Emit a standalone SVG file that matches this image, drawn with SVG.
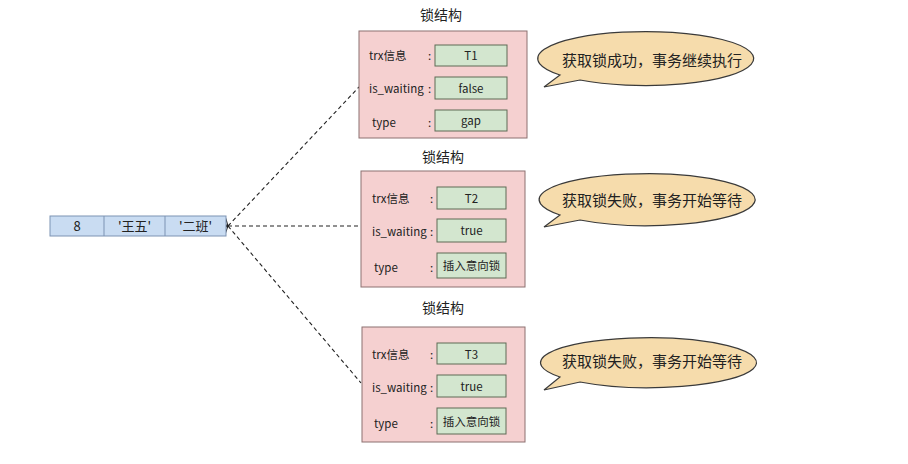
<svg xmlns="http://www.w3.org/2000/svg" width="908" height="464" viewBox="0 0 908 464">
<defs>
<style>
text{font-family:"Noto Sans CJK SC","Liberation Sans",sans-serif;fill:#222}
.title{font-size:14px;text-anchor:middle}
.lbl{font-size:11.5px}
.val{font-size:11.5px;text-anchor:middle}
.lock{fill:#f5d0d0;stroke:#8c7070;stroke-width:1}
.cell{fill:#d3e6cf;stroke:#5e6b55;stroke-width:1}
.rec{fill:#c9dcf2;stroke:#7d93b3;stroke-width:1}
.bub{fill:#f6dcac;stroke:#3a3a3a;stroke-width:1.2}
.btxt{font-size:15px;text-anchor:middle}
.conn{fill:none;stroke:#222;stroke-width:1.1;stroke-dasharray:4 3}
</style>
<marker id="arr" viewBox="0 0 10 10" refX="1" refY="5" markerWidth="8" markerHeight="8" orient="auto-start-reverse" markerUnits="userSpaceOnUse">
<path d="M10,1 L1,5 L10,9" fill="none" stroke="#222" stroke-width="1.3"/>
</marker>
</defs>
<rect width="908" height="464" fill="#ffffff"/>

<g id="connectors">
<line class="conn" x1="228" y1="226" x2="359" y2="87" marker-start="url(#arr)"/>
<line class="conn" x1="228" y1="226" x2="361" y2="226" marker-start="url(#arr)"/>
<line class="conn" x1="228" y1="226" x2="361" y2="383" marker-start="url(#arr)"/>
</g>

<g id="record">
<rect class="rec" x="50" y="216" width="176" height="20"/>
<line x1="104" y1="216" x2="104" y2="236" stroke="#7d93b3"/>
<line x1="165" y1="216" x2="165" y2="236" stroke="#7d93b3"/>
<text class="val" x="77" y="231" style="font-size:13px">8</text>
<text class="val" x="134.5" y="231" style="font-size:13px">'王五'</text>
<text class="val" x="195.5" y="231" style="font-size:13px">'二班'</text>
</g>

<g id="lock1">
<text class="title" x="441" y="20">锁结构</text>
<rect class="lock" x="359" y="31" width="168" height="107"/>
<text class="lbl" x="369" y="60">trx信息</text>
<text class="lbl" x="428" y="60">:</text>
<rect class="cell" x="435" y="45" width="72" height="21"/>
<text class="val" x="471" y="60">T1</text>
<text class="lbl" x="369" y="93">is_waiting</text>
<text class="lbl" x="428" y="93">:</text>
<rect class="cell" x="435" y="77" width="72" height="22"/>
<text class="val" x="471" y="93">false</text>
<text class="lbl" x="372" y="127">type</text>
<text class="lbl" x="428" y="127">:</text>
<rect class="cell" x="435" y="110" width="72" height="21"/>
<text class="val" x="471" y="125">gap</text>
</g>

<g id="lock2">
<text class="title" x="443" y="162">锁结构</text>
<rect class="lock" x="361" y="171" width="164" height="116"/>
<text class="lbl" x="372" y="203">trx信息</text>
<text class="lbl" x="430" y="203">:</text>
<rect class="cell" x="437" y="187" width="69" height="22"/>
<text class="val" x="471.5" y="203">T2</text>
<text class="lbl" x="372" y="236">is_waiting</text>
<text class="lbl" x="430" y="236">:</text>
<rect class="cell" x="437" y="219" width="69" height="23"/>
<text class="val" x="471.5" y="235">true</text>
<text class="lbl" x="374" y="272">type</text>
<text class="lbl" x="430" y="272">:</text>
<rect class="cell" x="437" y="253" width="69" height="25"/>
<text class="val" x="471.5" y="270">插入意向锁</text>
</g>

<g id="lock3">
<text class="title" x="443" y="313">锁结构</text>
<rect class="lock" x="362" y="327" width="163" height="115"/>
<text class="lbl" x="372" y="359">trx信息</text>
<text class="lbl" x="430" y="359">:</text>
<rect class="cell" x="437" y="343" width="69" height="21"/>
<text class="val" x="471.5" y="359">T3</text>
<text class="lbl" x="372" y="392">is_waiting</text>
<text class="lbl" x="430" y="392">:</text>
<rect class="cell" x="437" y="375" width="69" height="22"/>
<text class="val" x="471.5" y="391">true</text>
<text class="lbl" x="374" y="428">type</text>
<text class="lbl" x="430" y="428">:</text>
<rect class="cell" x="437" y="408" width="69" height="26"/>
<text class="val" x="471.5" y="426">插入意向锁</text>
</g>

<g id="bubble1">
<path class="bub" d="M560,75 A108,27 0 1 1 580,80 L544,87 Z"/>
<text class="btxt" x="652" y="66">获取锁成功，事务继续执行</text>
</g>

<g id="bubble2">
<path class="bub" d="M560,215 A108,26 0 1 1 580,220 L544,227 Z"/>
<text class="btxt" x="652" y="206">获取锁失败，事务开始等待</text>
</g>

<g id="bubble3">
<path class="bub" d="M560,377 A108,25 0 1 1 580,382 L544,390 Z"/>
<text class="btxt" x="652" y="367">获取锁失败，事务开始等待</text>
</g>
</svg>
